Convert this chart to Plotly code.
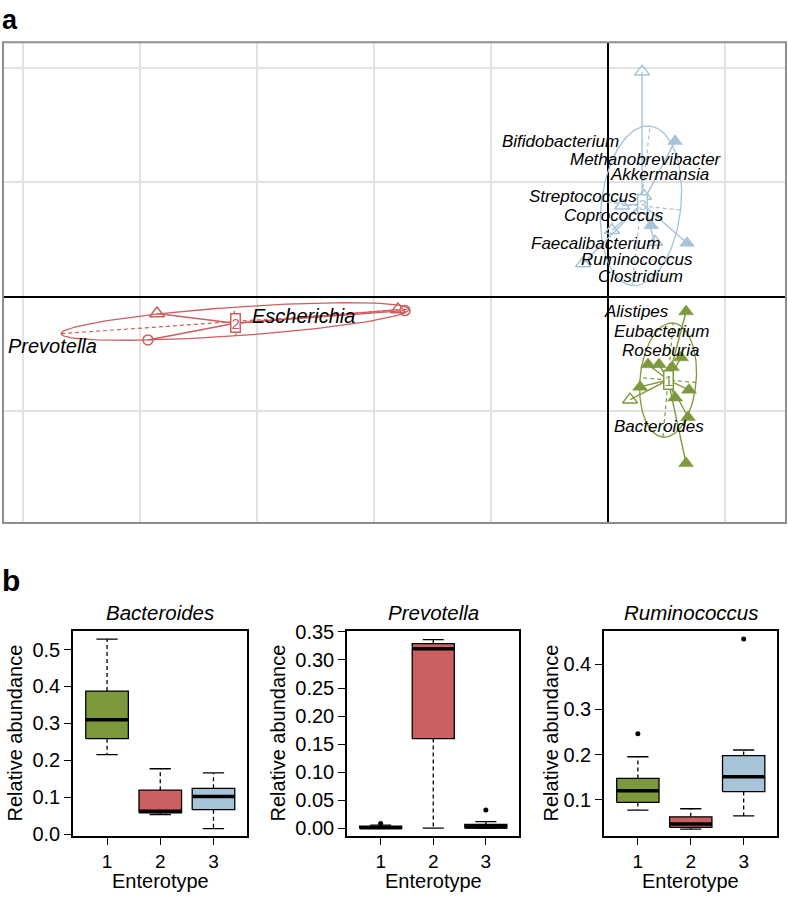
import numpy as np
import plotly.graph_objects as go

# ---------------- Panel a data (between-class analysis plane) ----------------
C1, C2, C3 = "#7C9A3C", "#CC5F5F", "#A6C3D8"

# enterotype 1 (green)
e1_filled_x = [0.667, 0.342, 0.436, 0.547, 0.624, 0.274, 0.692, 0.573, 0.684, 0.667]
e1_filled_y = [-0.128, -0.590, -0.590, -0.615, -0.530, -0.786, -0.812, -0.880, -1.051, -1.453]
e1_open_x = [0.188]
e1_open_y = [-0.897]
e1_centroid = (0.513, -0.726)
e1_ellipse = (0.513, -0.726, 0.50, 0.24, 85.0)   # cx, cy, semi-major, semi-minor, angle(deg)

# enterotype 2 (red)
e2_tri_x = [-3.855, -1.795]
e2_tri_y = [-0.145, -0.111]
e2_circ_x = [-3.932, -1.735]
e2_circ_y = [-0.376, -0.120]
e2_centroid = (-3.188, -0.230)
e2_ellipse = (-3.188, -0.215, 1.49, 0.125, 4.1)

# enterotype 3 (blue)
e3_filled_x = [0.573, 0.368, 0.675]
e3_filled_y = [1.359, 0.624, 0.470]
e3_open_x = [0.291, -0.214, 0.034, 0.402, 0.308, 0.120]
e3_open_y = [1.966, 0.291, 0.581, 0.479, 0.880, 0.795]
e3_centroid = (0.291, 0.812)
e3_ellipse = (0.282, 0.795, 0.70, 0.34, 83.7)

genus_labels = ["Bifidobacterium", "Methanobrevibacter", "Akkermansia", "Streptococcus",
                "Coprococcus", "Faecalibacterium", "Ruminococcus", "Clostridium",
                "Alistipes", "Eubacterium", "Roseburia", "Bacteroides",
                "Prevotella", "Escherichia"]
label_x = [-0.410, 0.325, 0.444, -0.214, 0.051, -0.103, 0.248, 0.274,
           0.239, 0.453, 0.453, 0.436, -4.752, -2.607]
label_y = [1.359, 1.197, 1.068, 0.880, 0.709, 0.470, 0.325, 0.179,
           -0.128, -0.299, -0.470, -1.128, -0.427, -0.171]

# ---------------- Panel b data (boxplot statistics) ----------------
enterotypes = [1, 2, 3]
box_titles = ["Bacteroides", "Prevotella", "Ruminococcus"]
bact_low = [0.215, 0.053, 0.015]
bact_q1 = [0.2585, 0.0576, 0.066]
bact_med = [0.310, 0.062, 0.102]
bact_q3 = [0.3875, 0.119, 0.124]
bact_high = [0.528, 0.177, 0.1656]
bact_out = [[], [], []]

prev_low = [0.0, 0.0005, 0.0]
prev_q1 = [0.0, 0.160, 0.0005]
prev_med = [0.001, 0.320, 0.003]
prev_q3 = [0.004, 0.329, 0.007]
prev_high = [0.006, 0.336, 0.012]
prev_out = [[0.009], [], [0.033]]

rumi_low = [0.077, 0.035, 0.064]
rumi_q1 = [0.094, 0.0387, 0.118]
rumi_med = [0.120, 0.046, 0.1507]
rumi_q3 = [0.147, 0.062, 0.1976]
rumi_high = [0.195, 0.080, 0.210]
rumi_out = [[0.246], [], [0.4555]]

bact_ticks = [0.0, 0.1, 0.2, 0.3, 0.4, 0.5]
bact_ticktext = ["0.0", "0.1", "0.2", "0.3", "0.4", "0.5"]
prev_ticks = [0.0, 0.05, 0.10, 0.15, 0.20, 0.25, 0.30, 0.35]
prev_ticktext = ["0.00", "0.05", "0.10", "0.15", "0.20", "0.25", "0.30", "0.35"]
rumi_ticks = [0.1, 0.2, 0.3, 0.4]
rumi_ticktext = ["0.1", "0.2", "0.3", "0.4"]

# ---------------- figure ----------------
W, H = 788, 906
FONT = "Liberation Sans"
BIG_LABELS = {"Prevotella": 20, "Escherichia": 20}
fig = go.Figure()


def px_x(p):
    return p / W


def px_y(p):
    return 1 - p / H


def ellipse_xy(el, n=120):
    cx, cy, a, b, ang = el
    t = np.linspace(0, 2 * np.pi, n)
    th = np.deg2rad(ang)
    x = cx + a * np.cos(t) * np.cos(th) - b * np.sin(t) * np.sin(th)
    y = cy + a * np.cos(t) * np.sin(th) + b * np.sin(t) * np.cos(th)
    return x, y


def ellipse_axes(el):
    cx, cy, a, b, ang = el
    th = np.deg2rad(ang)
    ux, uy = np.cos(th), np.sin(th)
    vx, vy = -np.sin(th), np.cos(th)
    xs = [cx - a * ux, cx + a * ux, None, cx - b * vx, cx + b * vx]
    ys = [cy - a * uy, cy + a * uy, None, cy - b * vy, cy + b * vy]
    return xs, ys


def spokes(cen, xs, ys):
    ox, oy = [], []
    for x, y in zip(xs, ys):
        ox += [cen[0], x, None]
        oy += [cen[1], y, None]
    return ox, oy


clusters = [
    (C1, e1_ellipse, e1_centroid, [(e1_filled_x, e1_filled_y, "triangle-up"),
                                   (e1_open_x, e1_open_y, "triangle-up-open")]),
    (C2, e2_ellipse, e2_centroid, [(e2_tri_x, e2_tri_y, "triangle-up-open"),
                                   (e2_circ_x, e2_circ_y, "circle-open")]),
    (C3, e3_ellipse, e3_centroid, [(e3_filled_x, e3_filled_y, "triangle-up"),
                                   (e3_open_x, e3_open_y, "triangle-up-open")]),
]

for col, el, cen, groups in clusters:
    ex, ey = ellipse_xy(el)
    fig.add_trace(go.Scatter(x=ex, y=ey, mode="lines", line=dict(color=col, width=1.3),
                             xaxis="x", yaxis="y", hoverinfo="skip"))
    ax, ay = ellipse_axes(el)
    fig.add_trace(go.Scatter(x=ax, y=ay, mode="lines",
                             line=dict(color=col, width=1.2, dash="4px,3px"),
                             xaxis="x", yaxis="y", hoverinfo="skip"))
    allx, ally = [], []
    for gx, gy, _ in groups:
        allx += gx
        ally += gy
    sx, sy = spokes(cen, allx, ally)
    fig.add_trace(go.Scatter(x=sx, y=sy, mode="lines", line=dict(color=col, width=1.4),
                             xaxis="x", yaxis="y", hoverinfo="skip"))
    for gx, gy, sym in groups:
        if sym.endswith("open"):
            mk = dict(symbol=sym, size=13 if "triangle" in sym else 10, color=col,
                      line=dict(color=col, width=1.5))
        else:
            mk = dict(symbol=sym, size=13, color=col, line=dict(color=col, width=0.5))
        fig.add_trace(go.Scatter(x=gx, y=gy, mode="markers", marker=mk,
                                 xaxis="x", yaxis="y", hoverinfo="skip"))

annotations = []
for num, col, cen in [("1", C1, e1_centroid), ("2", C2, e2_centroid), ("3", C3, e3_centroid)]:
    annotations.append(dict(x=cen[0], y=cen[1], xref="x", yref="y", text=num, showarrow=False,
                            font=dict(family=FONT, size=15, color=col), bgcolor="white",
                            bordercolor=col, borderwidth=1.5, borderpad=0,
                            xanchor="center", yanchor="middle"))
for lab, lx, ly in zip(genus_labels, label_x, label_y):
    annotations.append(dict(x=lx, y=ly, xref="x", yref="y", text="<i>%s</i>" % lab,
                            showarrow=False,
                            font=dict(family=FONT, size=BIG_LABELS.get(lab, 17), color="black"),
                            xanchor="center", yanchor="middle"))

# panel labels
annotations.append(dict(x=px_x(0), y=px_y(10), xref="paper", yref="paper", text="<b>a</b>",
                        showarrow=False, font=dict(family=FONT, size=27, color="black"),
                        xanchor="left", yanchor="middle"))
annotations.append(dict(x=px_x(0), y=px_y(583), xref="paper", yref="paper", text="<b>b</b>",
                        showarrow=False, font=dict(family=FONT, size=30, color="black"),
                        xanchor="left", yanchor="middle"))

# ---------------- panel b boxes ----------------
box_sets = [
    (bact_low, bact_q1, bact_med, bact_q3, bact_high, bact_out),
    (prev_low, prev_q1, prev_med, prev_q3, prev_high, prev_out),
    (rumi_low, rumi_q1, rumi_med, rumi_q3, rumi_high, rumi_out),
]
fills = [C1, C2, C3]
BW = 0.8
for k, (lo, q1, md, q3, hi, outs) in enumerate(box_sets):
    xa, ya = "x%d" % (k + 2), "y%d" % (k + 2)
    wx, wy, cx_, cy_, ox, oy = [], [], [], [], [], []
    for i, e in enumerate(enterotypes):
        wx += [e, e, None, e, e, None]
        wy += [q3[i], hi[i], None, q1[i], lo[i], None]
        cx_ += [e - BW / 4, e + BW / 4, None, e - BW / 4, e + BW / 4, None]
        cy_ += [hi[i], hi[i], None, lo[i], lo[i], None]
        for o in outs[i]:
            ox.append(e)
            oy.append(o)
    fig.add_trace(go.Scatter(x=wx, y=wy, mode="lines", line=dict(color="black", width=1.3, dash="4px,3px"),
                             xaxis=xa, yaxis=ya, hoverinfo="skip"))
    fig.add_trace(go.Scatter(x=cx_, y=cy_, mode="lines", line=dict(color="black", width=1.3),
                             xaxis=xa, yaxis=ya, hoverinfo="skip"))
    for i, e in enumerate(enterotypes):
        fig.add_trace(go.Scatter(x=[e - BW / 2, e + BW / 2, e + BW / 2, e - BW / 2, e - BW / 2],
                                 y=[q1[i], q1[i], q3[i], q3[i], q1[i]], mode="lines",
                                 fill="toself", fillcolor=fills[i],
                                 line=dict(color="black", width=1.3),
                                 xaxis=xa, yaxis=ya, hoverinfo="skip"))
        fig.add_trace(go.Scatter(x=[e - BW / 2, e + BW / 2], y=[md[i], md[i]], mode="lines",
                                 line=dict(color="black", width=3.5),
                                 xaxis=xa, yaxis=ya, hoverinfo="skip"))
    if ox:
        fig.add_trace(go.Scatter(x=ox, y=oy, mode="markers", marker=dict(color="black", size=5),
                                 xaxis=xa, yaxis=ya, hoverinfo="skip"))

# ---------------- axes ----------------
PA_L, PA_R, PA_T, PA_B = 3, 786, 33, 524
layout = dict(
    width=W, height=H, autosize=False, showlegend=False,
    margin=dict(l=0, r=0, t=0, b=0, pad=0), paper_bgcolor="white", plot_bgcolor="white",
    font=dict(family=FONT, color="black"),
    xaxis=dict(domain=[px_x(PA_L), px_x(PA_R)], range=[-5.171, 1.521], showgrid=True,
               gridcolor="#E2E2E2", gridwidth=1.5, dtick=1, tick0=0, zeroline=True,
               zerolinecolor="black", zerolinewidth=1.5, showticklabels=False, ticks="",
               fixedrange=True, anchor="y"),
    yaxis=dict(domain=[px_y(PA_B), px_y(PA_T)], range=[-1.974, 2.222], showgrid=True,
               gridcolor="#E2E2E2", gridwidth=1.5, dtick=1, tick0=0, zeroline=True,
               zerolinecolor="black", zerolinewidth=1.5, showticklabels=False, ticks="",
               fixedrange=True, anchor="x"),
)

sub_x = [(73, 247), (347, 519), (604, 777)]
sub_yr = [(-0.006, 0.551), (-0.014, 0.352), (0.019, 0.474)]
sub_ticks = [(bact_ticks, bact_ticktext), (prev_ticks, prev_ticktext), (rumi_ticks, rumi_ticktext)]
SB_T, SB_B = 634, 844
ytitle_x = [15, 278, 551]
for k in range(3):
    n = k + 2
    layout["xaxis%d" % n] = dict(domain=[px_x(sub_x[k][0]), px_x(sub_x[k][1])], range=[0.36, 3.63],
                                 tickvals=enterotypes, ticktext=[str(e) for e in enterotypes],
                                 ticks="outside", ticklen=7, tickwidth=1.3, tickcolor="black",
                                 showline=True, linecolor="black", linewidth=1.5, mirror=True,
                                 showgrid=False, zeroline=False, anchor="y%d" % n,
                                 tickfont=dict(family=FONT, size=19), fixedrange=True)
    layout["yaxis%d" % n] = dict(domain=[px_y(SB_B), px_y(SB_T)], range=list(sub_yr[k]),
                                 tickvals=sub_ticks[k][0], ticktext=sub_ticks[k][1],
                                 ticks="outside", ticklen=7, tickwidth=1.3, tickcolor="black",
                                 showline=True, linecolor="black", linewidth=1.5, mirror=True,
                                 showgrid=False, zeroline=False, anchor="x%d" % n,
                                 tickfont=dict(family=FONT, size=20), fixedrange=True)
    cxp = (sub_x[k][0] + sub_x[k][1]) / 2
    annotations.append(dict(x=px_x(cxp), y=px_y(615), xref="paper", yref="paper",
                            text="<i>%s</i>" % box_titles[k], showarrow=False,
                            font=dict(family=FONT, size=20.5), xanchor="center", yanchor="middle"))
    annotations.append(dict(x=px_x(cxp), y=px_y(890), xref="paper", yref="paper",
                            text="Enterotype", showarrow=False,
                            font=dict(family=FONT, size=20), xanchor="center", yanchor="middle"))
    annotations.append(dict(x=px_x(ytitle_x[k]), y=px_y((SB_T + SB_B) / 2), xref="paper", yref="paper",
                            text="Relative abundance", showarrow=False, textangle=-90,
                            font=dict(family=FONT, size=20), xanchor="center", yanchor="middle"))

layout["annotations"] = annotations
layout["shapes"] = [dict(type="rect", xref="paper", yref="paper",
                         x0=px_x(PA_L), x1=px_x(PA_R), y0=px_y(PA_B), y1=px_y(PA_T),
                         line=dict(color="#8E8E8E", width=2), layer="above")]
fig.update_layout(**layout)
fig.write_html("out.html", config={"displayModeBar": False},
               post_script="document.body.style.margin='0px';document.body.style.overflow='hidden';")
